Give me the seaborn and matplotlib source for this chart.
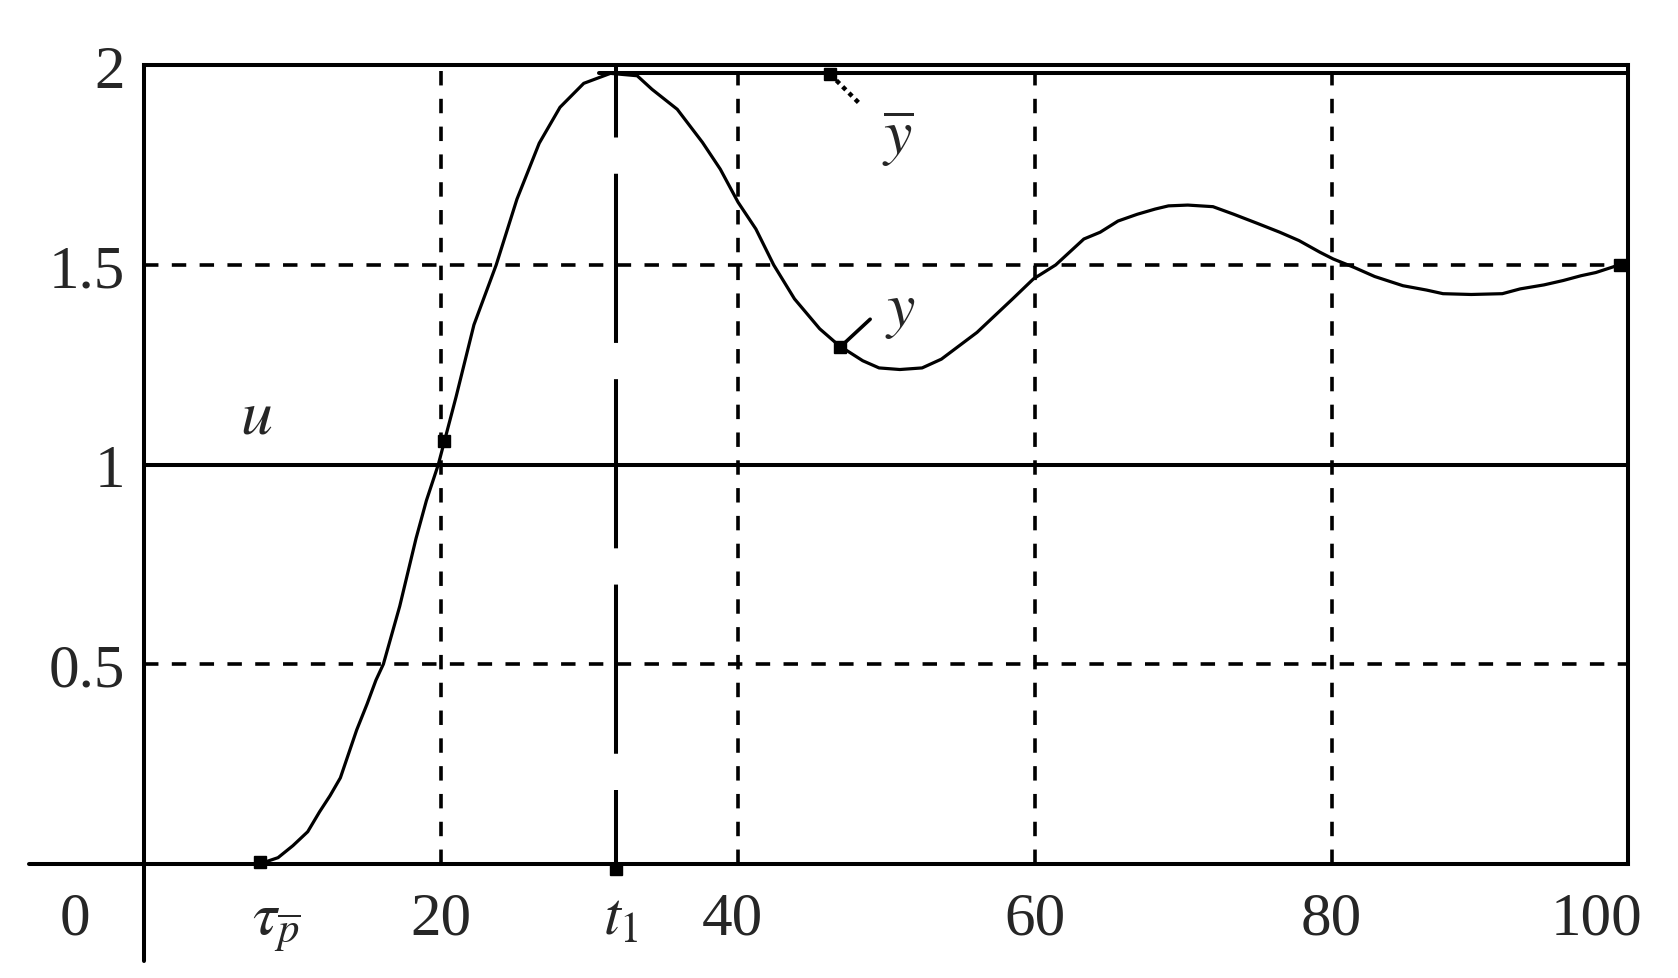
import matplotlib
matplotlib.use("Agg")
import matplotlib.pyplot as plt
import seaborn as sns

# ---- data ----
# output y(t) of the process
t = [7.8, 9.0, 10.0, 11.0, 11.8, 12.5, 13.2, 14.3, 15.0, 15.6, 16.1, 17.2,
     18.3, 19.0, 19.8, 21.0, 22.2, 23.7, 25.1, 26.6, 28.0, 29.6, 31.4, 33.2,
     34.2, 35.9, 37.6, 38.8, 40.0, 41.2, 42.4, 43.8, 45.5, 46.8, 48.4, 49.5,
     50.9, 52.4, 53.7, 56.1, 58.5, 59.9, 61.4, 63.3, 64.4, 65.6, 66.9, 68.1,
     69.0, 70.3, 72.0, 73.4, 75.0, 76.5, 77.8, 79.2, 80.1, 81.5, 82.9, 84.8,
     86.4, 87.5, 89.4, 91.5, 92.7, 94.3, 95.6, 96.8, 97.8, 99.2, 100.0]
y = [0.0, 0.015, 0.045, 0.08, 0.13, 0.17, 0.215, 0.335, 0.40, 0.46, 0.50, 0.645,
     0.815, 0.91, 1.0, 1.17, 1.35, 1.50, 1.665, 1.805, 1.895, 1.955, 1.98, 1.974,
     1.94, 1.89, 1.807, 1.74, 1.657, 1.59, 1.50, 1.415, 1.34, 1.298, 1.26, 1.242,
     1.238, 1.242, 1.264, 1.331, 1.415, 1.465, 1.50, 1.565, 1.582, 1.61, 1.627, 1.64,
     1.648, 1.65, 1.646, 1.627, 1.604, 1.582, 1.561, 1.532, 1.515, 1.494, 1.471, 1.448,
     1.437, 1.428, 1.426, 1.428, 1.44, 1.45, 1.461, 1.473, 1.481, 1.498, 1.50]

# input u and the bound y-bar
u_t = [0, 100]
u_val = [1, 1]
ybar_t = [30.6, 100]
ybar_val = [1.98, 1.98]

t1 = 31.8
tau_p = 7.8

grid_x = [20, 40, 60, 80]
grid_y = [0.5, 1.5]

y_ticks = [0.5, 1, 1.5, 2]
y_tick_labels = ["0.5", "1", "1.5", "2"]
x_labels = ["0", r"$\tau_{\overline{p}}$", "20", r"$t_1$", "40", "60", "80", "100"]

# marked points on the curves
mark_t = [tau_p, 20.2, 46.2, 46.9, 99.4]
mark_y = [0.005, 1.06, 1.978, 1.295, 1.5]

# ---- layout ----
x_label_at = [-4.7, 8.9, 20, 32.1, 39.6, 60, 80, 97.85]
FS = 44
LW = 2.9
DASH = (0, (4, 3.7))

sns.set_style("white")
plt.rcParams["font.family"] = ["Liberation Serif", "DejaVu Serif"]
plt.rcParams["mathtext.fontset"] = "stix"

fig = plt.figure(figsize=(16.78, 9.79), dpi=100)
ax = fig.add_axes([0.0861, 0.1168, 0.8844, 0.8154])

for gx in grid_x:
    ax.axvline(gx, color="black", lw=2.6, ls=DASH)
for gy in grid_y:
    ax.axhline(gy, color="black", lw=2.6, ls=DASH)

sns.lineplot(x=u_t, y=u_val, ax=ax, color="black", lw=LW)
sns.lineplot(x=ybar_t, y=ybar_val, ax=ax, color="black", lw=LW)
sns.lineplot(x=t, y=y, ax=ax, color="black", lw=2.3)

# t1 marker line
ax.plot([t1, t1], [2, 0], color="black", lw=LW, ls=(24, (42, 9)))
ax.plot([t1], [-0.013], marker="s", ms=9, color="black", clip_on=False)

ax.plot(mark_t, mark_y, ls="none", marker="s", ms=8, color="black", clip_on=False)

# leaders to the labels
ax.plot([46.2, 48.3], [1.978, 1.90], color="black", lw=3.2, ls=(0, (1, 1)))
ax.plot([46.9, 48.9], [1.295, 1.364], color="black", lw=2.6)

ax.text(7.5, 1.081, r"$u$", fontsize=FS + 2, ha="center", va="baseline")
ax.text(50.8, 1.778, r"$\overline{y}$", fontsize=FS + 2, ha="center", va="baseline")
ax.text(50.96, 1.349, r"$y$", fontsize=FS + 2, ha="center", va="baseline")

# axis extensions beyond the frame
ax.plot([-7.75, 0], [0, 0], color="black", lw=LW, clip_on=False)
ax.plot([0, 0], [0, -0.244], color="black", lw=LW, clip_on=False)

ax.set_xlim(0, 100)
ax.set_ylim(0, 2)
for sp in ax.spines.values():
    sp.set_visible(True)
    sp.set_color("black")
    sp.set_linewidth(LW)

ax.set_xticks([])
ax.set_yticks(y_ticks)
ax.set_yticklabels(y_tick_labels, fontsize=FS)
ax.tick_params(axis="y", length=0, pad=14)

for lab, xp in zip(x_labels, x_label_at):
    ax.annotate(lab, xy=(xp, 0), xytext=(0, -50.4), textcoords="offset points",
                ha="center", va="baseline", fontsize=FS, annotation_clip=False)

fig.savefig("out.png", dpi=100)
plt.close(fig)
